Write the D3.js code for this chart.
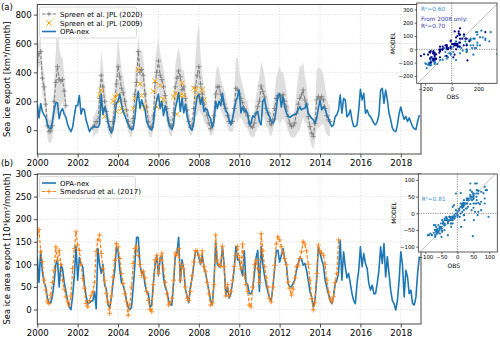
<!DOCTYPE html>
<html><head><meta charset="utf-8">
<script src="https://cdn.jsdelivr.net/npm/d3@7"></script>
<style>body{margin:0;background:#fff} svg{display:block} text{font-family:"DejaVu Sans",sans-serif}</style>
</head><body><svg id="c" width="500" height="339"></svg>
<script>
// ---------------- DATA ----------------
const xTicks = [2000,2002,2004,2006,2008,2010,2012,2014,2016,2018];
const yTicksTop = [0,200,400,600,800];
const yTicksBot = [0,50,100,150,200,250,300];
const insetTicksTop = [-200,-100,0,100,200,300];
const insetXTicksTop = [-200,0,200];
const insetTicksBot = [-100,-50,0,50,100];
const labelsTop = ["Spreen et al. JPL (2020)","Spreen et al. JPL (2009)","OPA-nex"];
const labelsBot = ["OPA-nex","Smedsrud et al. (2017)"];
const r2Top = ["R²=0.60","From 2008 only:","R²=0.70"];
const r2Bot = "R²=0.81";

// OPA-nex volume export, monthly Jan 2000 - Dec 2018 [km3/month]
const opaVol = [
 180, 85,185,130,105, 90, 40, 15, 10, 60,140,190,
 190, 80,130,150,110, 90, 40, 10,-10, 20,100,170,
 170,240,110,150,140, 70, 30,-10, 10, 20, 25, 20,
  20, 40,250,110,160,130, 60, 10,-20, 10, 80,190,
 200,250,180,130,100, 70, 40, 15,  5, 10, 90,200,
 270,150,210,170,140, 60, 30, 10,  0, 40,150,210,
 250,150,200,100,170,120, 50, 20,  5, 40,150,200,
 260,130,220,120,180,100, 50, 15,  0, 50,160,230,
 250,180,230,130,150,140,100, 80, 20, 60,200,150,
 200,170,255,180,130,120, 70, 37, 80,140,200,232,
 278,120,160,130,140,110, 37, 50,100, 90,120,130,
  60, 37,200,220,150,120, 94, 60, 48, 70,150,240,
 255,160,230,160,120, 95, 90, 95,106,106,117,140,
 163,140,150,152,186,117,100, 83, 71, 48, 80,152,
 209,140,163,150,106, 83, 48, 25, 37, 94,106,140,
 244,117,220,210, 94,106,140, 71, 25, 25, 37,140,
 283,210,255,117,140,106, 94, 71, 48, 37, 60,106,
 278,290,186,278,210,117, 71, 14, -5,-10, 37,117,
 160,110, 75, 95, 60, 85, 55, 25, 10,  5, 60,105];

// Spreen et al. JPL (2020), monthly Jan 2000 - Jul 2014 (null = no data)
const sp20 = [
 470,530,545,360,300,180, 30,-10, -5, 30,200,330,
 440,350,340,350,270,170,null,null,null,null,null,null,
 null,null,null,null,null,null,null,null,null, 20, 35, 60,
  60,220,380,300,200,130, 60, 20,  0, 60,180,320,
 440,370,290,260,200,140, 60, 20, 10, 80,250,330,
 545,400,420,380,250,160, 60, 20, 20,100,330,400,
 480,380,350,300,240,150, 70, 30, 30,120,300,360,
 410,370,280,300,220,140, 60, 20, 30,150,300,380,
 440,320,250,180,140,100, 50, 10, 30,100,250,300,
 300,250,210,180,150,100, 60, 50, 60,150,290,280,
 250,220,190,150,120,100, 50, 25, 20, 50,117,163,
 200,306,267,230,150,120, 60, 37, 71,150,220,240,
 240,230,245,200,160, 95, 48, 25, 30, 50,117,180,
 220,244,278,209,180, 94, 25,-20,-44, 48,209,232,
 220,232,210,150,100, 71, 60];
// its uncertainty (half width of grey band)
const sp20Err = [
 100, 90,100,110,100, 90, 80, 80, 80, 90,150,220,
 330,220,170,150,120,100,null,null,null,null,null,null,
 null,null,null,null,null,null,null,null,null, 70, 70, 80,
  90,130,170,150,120, 90, 70, 60, 60, 80,120,170,
 190,160,130,110,100, 80, 70, 60, 60, 90,130,160,
 110,150,130,120,110, 90, 80, 70, 70, 90,150,170,
 170,150,130,120,110, 90, 80, 70, 70,100,150,160,
 160,140,130,120,100, 80, 70, 60, 60,110,200,280,
 300,200,150,120,100, 80, 60, 50, 60,100,140,150,
 120,110,100,100, 90, 80, 70, 60, 70,110,200,230,
 160,140,120,110,100, 90, 80, 70, 70, 90,120,150,
 170,170,170,150,130,100, 90, 80, 80,100,150,170,
 200,170,160,140,120,100, 80, 80, 80,100,150,190,
 220,200,190,160,130,100, 90, 90, 90,120,200,210,
 200,190,170,150,130,110,100];

// Spreen et al. JPL (2009): month index (from Jan 2000) and value
const sp09Month = [37,38,39,40, 45,46,47,48,49,50,51, 57,58,60,61,62,63,64, 69,70,71,72,73,74,75, 81,82,83,84,85,86,87, 93,94,95,96,97,98,99];
const sp09Val   = [244,278,150,95, 200,230,130,244,200,150,130, 150,220,420,320,240,180,150, 270,340,160,210,310,185,215, 230,255,110,245,240,325,240, 290,280,230,240,210,280,210];

// OPA-nex area export, monthly Jan 2000 - Dec 2018 [10^3 km2/month]
const opaArea = [
 115, 60,130, 85, 60, 50, 25, 15, 15, 30, 60,100,
 110, 50,100, 90, 60, 40, 20,  5,  0, 30, 75,140,
  65,115,100, 95, 55, 30, 12, 15, 18, 20, 40,  2,
 135,100, 80,100, 55, 45, 10,  5, 25, 60, 85,138,
 130, 90, 60, 55, 40, 20,  5,  0,  5, 50,100,160,
 160,100, 80, 85, 55, 40, 35,  5, 10, 60,100,120,
  75,115,120, 70, 50, 40, 20, 10, 10, 60,120,125,
 160, 60,110, 90, 45, 30, 15, 50, 70,100,130,130,
 115,100,120, 95, 80, 60, 40, 20, 10, 60,150,100,
  95, 95,140,100, 30, 50, 25, 35, 60, 90,140,110,
 110, 90, 75,130, 60, 55, 35, 35, 45, 80,115,131,
  40,140,100, 75, 55, 40, 25, 20, 50, 90,130,131,
 105,120,135,110,100, 58, 50, 50, 58, 65, 87,102,
 115,112, 98,102, 87, 65, 40, 28,  6, 20, 65,139,
 125,110, 98, 65, 50, 35, 21, 13, 28, 58, 65, 80,
 154, 65,128, 95, 70, 80, 58, 35, 20, 13, 58, 87,
 139, 95,124,102, 91, 58, 43, 54, 35, 35, 58, 87,
 139,102,146, 72,117, 80, 43, 20, 13, -1, 20, 65,
 128, 98, 28, 87, 72, 35, 43, 13, 10, 28, 80,117];

// Smedsrud et al. (2017), monthly Jan 2000 - Dec 2014
const smeds = [
 165,177,128,106, 65, 43, 17, 13, 32, 60, 87,139,
 109,131,100, 65, 45, 28, 17, 10, 30, 91,135,172,
 143,131,100, 69, 47, 13,  6, 20, 32, 39, 60,128,
 154,165,124, 90, 65, 35, 17, -9, 30, 72,109,146,
 139,113, 80, 58, 35, 17,-13, 10, 50,102,135,140,
 120,100, 75, 85, 70, 40, 20,  0, -5, 55,110,120,
  80,110,125, 90, 60, 35, 10, 15, 25, 65,125,120,
 135, 65,100, 90, 50, 25, 20, 40, 75,105,130,130,
 120,105,130, 95, 85, 60, 35, 10, 15, 55,165,110,
 100, 95,140, 95, 30, 55, 30, 40, 65, 95,120,140,
 115, 90,145, 75, 55, 40, 10,  6, 50,100,109, 90,
  60,168,130, 95, 70, 50, 24, 17, 50, 98,145,161,
 154,139,125,113,100, 61, 47, 32, 45, 70, 95, 98,
 113,128,150,145,130,100, 65, 24, -1, 15, 80,143,
 130,125,120,100, 65, 39, 24, 17, 28, 60, 80,154];

// ---------------- DRAW ----------------
const svg = d3.select('#c');
const BLUE = '#1f77b4', ORANGE = '#ff7f0e', XORANGE = '#ffa500', GREY = '#7f7f7f', NAVY = '#00008b';
const tOf = i => 2000 + i/12;
const x = d3.scaleLinear().domain([2000, 2019]).range([37.3, 421]);
const yTop = d3.scaleLinear().domain([-165, 870]).range([154, 4.5]);
const yBot = d3.scaleLinear().domain([-32, 300]).range([324, 174]);

const defs = svg.append('defs');
function clip(id, y0, y1){
  defs.append('clipPath').attr('id', id).append('rect')
    .attr('x', x.range()[0]).attr('y', y0).attr('width', x.range()[1]-x.range()[0]).attr('height', y1-y0);
}
clip('cTop', 4.5, 154); clip('cBot', 174, 324);

function plus(g, pts, color, s, w){
  g.selectAll(null).data(pts).enter().append('path')
    .attr('d', d => `M${d[0]-s},${d[1]}H${d[0]+s}M${d[0]},${d[1]-s}V${d[1]+s}`)
    .attr('stroke', color).attr('stroke-width', w).attr('fill','none');
}
function cross(g, pts, color, s, w){
  g.selectAll(null).data(pts).enter().append('path')
    .attr('d', d => `M${d[0]-s},${d[1]-s}L${d[0]+s},${d[1]+s}M${d[0]-s},${d[1]+s}L${d[0]+s},${d[1]-s}`)
    .attr('stroke', color).attr('stroke-width', w).attr('fill','none');
}

function frame(y, yTicks){
  const [b, t] = y.range();
  const g = svg.append('g');
  g.selectAll(null).data(xTicks).enter().append('line')
    .attr('x1', d=>x(d)).attr('x2', d=>x(d)).attr('y1', t).attr('y2', b)
    .attr('stroke', '#d0d0d0').attr('stroke-width', 0.6).attr('stroke-dasharray','1.5,1.5');
  g.selectAll(null).data(yTicks).enter().append('line')
    .attr('x1', x.range()[0]).attr('x2', x.range()[1]).attr('y1', d=>y(d)).attr('y2', d=>y(d))
    .attr('stroke', '#d0d0d0').attr('stroke-width', 0.6).attr('stroke-dasharray','1.5,1.5');
  return g;
}
function axes(y, yTicks){
  const [b, t] = y.range();
  const ax = svg.append('g').attr('transform', `translate(0,${b})`)
    .call(d3.axisBottom(x).tickValues(xTicks).tickFormat(d3.format('d')).tickSize(3.5).tickPadding(2));
  const ay = svg.append('g').attr('transform', `translate(${x.range()[0]},0)`)
    .call(d3.axisLeft(y).tickValues(yTicks).tickSize(3.5).tickPadding(2));
  [ax, ay].forEach(a => {
    a.select('.domain').remove();
    a.selectAll('text').attr('font-size', 8.6).attr('fill', '#000').style('font-family','DejaVu Sans');
    a.selectAll('line').attr('stroke', '#000').attr('stroke-width', 0.7);
  });
  svg.append('rect').attr('x', x.range()[0]).attr('y', t).attr('width', x.range()[1]-x.range()[0]).attr('height', b-t)
    .attr('fill','none').attr('stroke','#333').attr('stroke-width', 0.9);
}

// ---- Panel (a) ----
frame(yTop, yTicksTop);
const gA = svg.append('g').attr('clip-path','url(#cTop)');
const sp20Pts = sp20.map((v,i) => ({t: tOf(i), v, e: sp20Err[i]}));
gA.append('path').datum(sp20Pts)
  .attr('d', d3.area().defined(d => d.v != null).x(d => x(d.t)).y0(d => yTop(d.v - d.e)).y1(d => yTop(d.v + d.e)))
  .attr('fill', '#dedede').attr('stroke','none');
gA.append('path').datum(sp20Pts)
  .attr('d', d3.line().defined(d => d.v != null).x(d => x(d.t)).y(d => yTop(d.v)))
  .attr('fill','none').attr('stroke', GREY).attr('stroke-width', 1.1).attr('stroke-dasharray','3.5,1.8');
plus(gA, sp20Pts.filter(d => d.v != null).map(d => [x(d.t), yTop(d.v)]), GREY, 2.5, 0.8);
cross(gA, sp09Month.map((m,k) => [x(tOf(m)), yTop(sp09Val[k])]), XORANGE, 2.6, 1.0);
gA.append('path').datum(opaVol.map((v,i) => [tOf(i), v]))
  .attr('d', d3.line().x(d => x(d[0])).y(d => yTop(d[1])))
  .attr('fill','none').attr('stroke', BLUE).attr('stroke-width', 1.6).attr('stroke-linejoin','round');
axes(yTop, yTicksTop);

// ---- Panel (b) ----
frame(yBot, yTicksBot);
const gB = svg.append('g').attr('clip-path','url(#cBot)');
gB.append('path').datum(opaArea.map((v,i) => [tOf(i), v]))
  .attr('d', d3.line().x(d => x(d[0])).y(d => yBot(d[1])))
  .attr('fill','none').attr('stroke', BLUE).attr('stroke-width', 1.6).attr('stroke-linejoin','round');
gB.append('path').datum(smeds.map((v,i) => [tOf(i), v]))
  .attr('d', d3.line().x(d => x(d[0])).y(d => yBot(d[1])))
  .attr('fill','none').attr('stroke', ORANGE).attr('stroke-width', 1.2).attr('stroke-dasharray','3.5,1.8');
plus(gB, smeds.map((v,i) => [x(tOf(i)), yBot(v)]), ORANGE, 2.5, 0.8);
axes(yBot, yTicksBot);

// y labels & panel tags
svg.append('text').attr('transform', `translate(10,${(4.5+154)/2}) rotate(-90)`).attr('text-anchor','middle')
  .attr('font-size', 8.4).text('Sea ice export [km³/month]');
svg.append('text').attr('transform', `translate(10,${(174+324)/2}) rotate(-90)`).attr('text-anchor','middle')
  .attr('font-size', 8.4).text('Sea ice area export [10³km²/month]');
svg.append('text').attr('x', 1).attr('y', 10).attr('font-size', 8.6).text('(a)');
svg.append('text').attr('x', 1).attr('y', 166).attr('font-size', 8.6).text('(b)');

// ---- Legends ----
function legendBox(x0, y0, w, h){
  svg.append('rect').attr('x', x0).attr('y', y0).attr('width', w).attr('height', h).attr('rx', 2)
    .attr('fill', 'rgba(255,255,255,0.85)').attr('stroke', '#cccccc').attr('stroke-width', 0.7);
}
legendBox(39.5, 7, 97, 31);
const lg = svg.append('g');
const lx0 = 42, lx1 = 56, ltx = 60, ly = [14, 23, 31.5];
lg.append('line').attr('x1', lx0).attr('x2', lx1).attr('y1', ly[0]).attr('y2', ly[0])
  .attr('stroke', GREY).attr('stroke-width', 1.1).attr('stroke-dasharray','3.5,1.8');
plus(lg, [[(lx0+lx1)/2, ly[0]]], GREY, 2.5, 0.8);
cross(lg, [[(lx0+lx1)/2, ly[1]]], XORANGE, 2.6, 1.0);
lg.append('line').attr('x1', lx0).attr('x2', lx1).attr('y1', ly[2]).attr('y2', ly[2])
  .attr('stroke', BLUE).attr('stroke-width', 1.6);
labelsTop.forEach((s,k) => lg.append('text').attr('x', ltx).attr('y', ly[k]+2.5).attr('font-size', 7).text(s));

legendBox(39.5, 176.5, 96, 22);
const lb = svg.append('g');
const lby = [183, 191.5];
lb.append('line').attr('x1', lx0).attr('x2', lx1).attr('y1', lby[0]).attr('y2', lby[0])
  .attr('stroke', BLUE).attr('stroke-width', 1.6);
lb.append('line').attr('x1', lx0).attr('x2', lx1).attr('y1', lby[1]).attr('y2', lby[1])
  .attr('stroke', ORANGE).attr('stroke-width', 1.2).attr('stroke-dasharray','3.5,1.8');
plus(lb, [[(lx0+lx1)/2, lby[1]]], ORANGE, 2.5, 0.8);
labelsBot.forEach((s,k) => lb.append('text').attr('x', ltx).attr('y', lby[k]+2.5).attr('font-size', 7).text(s));

// ---- Insets (scatter of anomalies) ----
function inset(box, xd, yd, xt, yt, pts, labelX, labelY){
  const ix = d3.scaleLinear().domain(xd).range([box.x0, box.x1]);
  const iy = d3.scaleLinear().domain(yd).range([box.y1, box.y0]);
  const g = svg.append('g');
  g.append('rect').attr('x', box.x0).attr('y', box.y0).attr('width', box.x1-box.x0).attr('height', box.y1-box.y0)
    .attr('fill', '#fff');
  const id = 'ci' + Math.round(box.y0);
  defs.append('clipPath').attr('id', id).append('rect').attr('x', box.x0).attr('y', box.y0)
    .attr('width', box.x1-box.x0).attr('height', box.y1-box.y0);
  const gc = g.append('g').attr('clip-path', `url(#${id})`);
  gc.append('line').attr('x1', ix(-1000)).attr('y1', iy(-1000)).attr('x2', ix(1000)).attr('y2', iy(1000))
    .attr('stroke', '#b0b0b0').attr('stroke-width', 0.8);
  gc.append('line').attr('x1', box.x0).attr('x2', box.x1).attr('y1', iy(0)).attr('y2', iy(0))
    .attr('stroke', '#333').attr('stroke-width', 0.6).attr('stroke-dasharray', '1.2,1.2');
  gc.append('line').attr('y1', box.y0).attr('y2', box.y1).attr('x1', ix(0)).attr('x2', ix(0))
    .attr('stroke', '#333').attr('stroke-width', 0.6).attr('stroke-dasharray', '1.2,1.2');
  gc.selectAll(null).data(pts).enter().append('circle')
    .attr('cx', d => ix(d.o)).attr('cy', d => iy(d.m)).attr('r', 1.1).attr('fill', d => d.c);
  const axB = g.append('g').attr('transform', `translate(0,${box.y1})`)
    .call(d3.axisBottom(ix).tickValues(xt).tickSize(2).tickPadding(1.5));
  const axL = g.append('g').attr('transform', `translate(${box.x0},0)`)
    .call(d3.axisLeft(iy).tickValues(yt).tickSize(2).tickPadding(1.5));
  [axB, axL].forEach(a => {
    a.select('.domain').remove();
    a.selectAll('text').attr('font-size', 5.4).attr('fill','#000').style('font-family','DejaVu Sans');
    a.selectAll('line').attr('stroke','#000').attr('stroke-width', 0.6);
  });
  g.append('rect').attr('x', box.x0).attr('y', box.y0).attr('width', box.x1-box.x0).attr('height', box.y1-box.y0)
    .attr('fill', 'none').attr('stroke', '#333').attr('stroke-width', 0.8);
  g.append('text').attr('x', (box.x0+box.x1)/2 - 4).attr('y', box.y1 + 16).attr('text-anchor','middle')
    .attr('font-size', 6).text(labelX);
  g.append('text').attr('transform', `translate(${box.x0-22},${(box.y0+box.y1)/2}) rotate(-90)`)
    .attr('text-anchor','middle').attr('font-size', 6).text(labelY);
  return {ix, iy, g};
}

// top inset: Spreen 2020 vs OPA-nex anomalies
const idxTop = d3.range(sp20.length).filter(i => sp20[i] != null);
const mO1 = d3.mean(idxTop, i => sp20[i]), mM1 = d3.mean(idxTop, i => opaVol[i]);
const ptsTop = idxTop.map(i => ({o: sp20[i]-mO1, m: opaVol[i]-mM1, c: i >= 96 ? NAVY : BLUE}));
const insA = inset({x0: 416.7, x1: 497, y0: 3, y1: 83.3}, [-263, 340], [-255, 348],
  insetXTicksTop, insetTicksTop, ptsTop, 'OBS', 'MODEL');
insA.g.append('text').attr('x', 421).attr('y', 11).attr('font-size', 5.8).attr('fill', '#3a8fd0').text(r2Top[0]);
insA.g.append('text').attr('x', 421).attr('y', 21).attr('font-size', 5.8).attr('fill', '#3a3ab0').text(r2Top[1]);
insA.g.append('text').attr('x', 421).attr('y', 27.5).attr('font-size', 5.8).attr('fill', '#3a3ab0').text(r2Top[2]);

// bottom inset: Smedsrud vs OPA-nex anomalies
const idxBot = d3.range(smeds.length);
const mO2 = d3.mean(idxBot, i => smeds[i]), mM2 = d3.mean(idxBot, i => opaArea[i]);
const ptsBot = idxBot.map(i => ({o: smeds[i]-mO2, m: opaArea[i]-mM2, c: BLUE}));
const insB = inset({x0: 418.3, x1: 497.3, y0: 174, y1: 252}, [-122, 125], [-116, 118],
  insetTicksBot, insetTicksBot, ptsBot, 'OBS', 'MODEL');
insB.g.append('text').attr('x', 421.5).attr('y', 200.5).attr('font-size', 5.8).attr('fill', '#3a8fd0').text(r2Bot);
</script></body></html>
